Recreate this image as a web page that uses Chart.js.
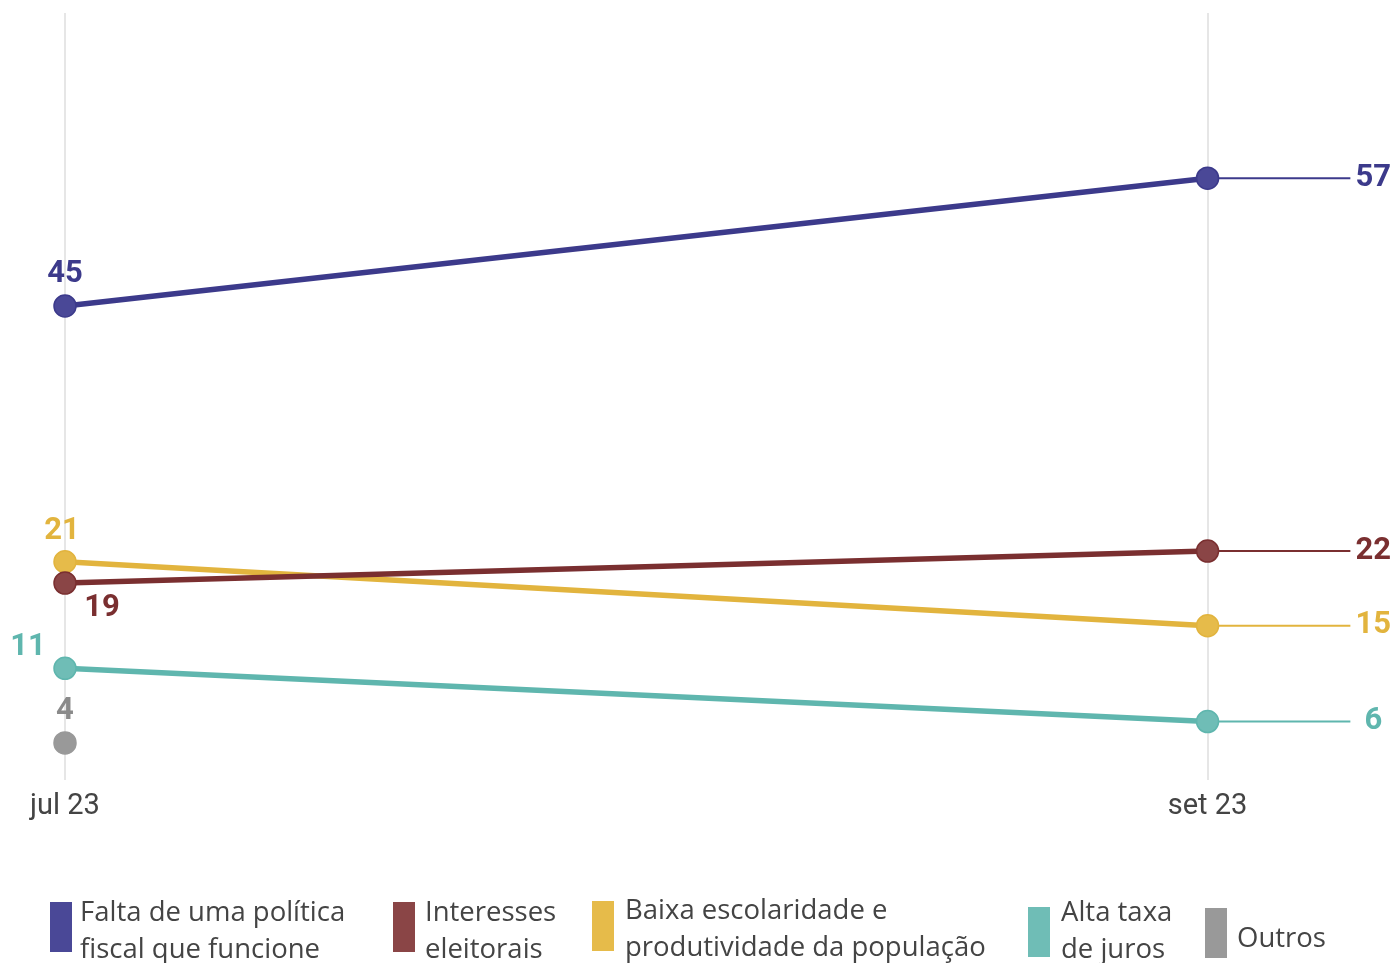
<!DOCTYPE html>
<html>
<head>
<meta charset="utf-8">
<script src="https://cdn.jsdelivr.net/npm/chart.js@4"></script>
<style>
  html, body { margin: 0; padding: 0; background: #fff; }
  #wrap { position: relative; width: 1396px; height: 963px; overflow: hidden; }
  #chart { position: absolute; left: 0; top: 0; }
  .leg { position: absolute; font-family: "Open Sans", sans-serif; font-size: 27.5px; color: #444; line-height: 37px; }
  .leg .box { position: absolute; left: 0; width: 22px; height: 50px; }
  .leg .txt { position: absolute; white-space: nowrap; }
</style>
</head>
<body>
<div id="wrap">
  <canvas id="chart" width="1396" height="963"></canvas>
  <div id="legend"></div>
</div>
<script>
// dados
const periodos = ['jul 23', 'set 23'];
const nomes = ['Falta de uma política fiscal que funcione', 'Interesses eleitorais', 'Baixa escolaridade e produtividade da população', 'Alta taxa de juros', 'Outros'];
const fiscal = [45, 57];
const eleitorais = [19, 22];
const escolaridade = [21, 15];
const juros = [11, 6];
const outros = [4];

const cores = ['#3c3a8b', '#7a2f30', '#e2b43e', '#5fb6ae', '#999999'];
const coresPonto = ['#4a4897', '#8a4546', '#e6bb4a', '#6fbdb6', '#999999'];
const series = [fiscal, eleitorais, escolaridade, juros, outros];

// rótulos à esquerda (deslocamento em px)
const rotEsq = [
  { dx: 0, dy: -32 },
  { dx: 37, dy: 25 },
  { dx: -3, dy: -31 },
  { dx: -37, dy: -21 },
  { dx: 0, dy: -32 }
];

const datasets = [];
const ordem = [1, 2, 3, 4, 5];
series.forEach(function(vals, i) {
    datasets.push({
        label: nomes[i],
        data: vals.map(function(v, j) { return { x: j, y: v }; }),
        borderColor: cores[i],
        backgroundColor: coresPonto[i],
        pointBorderColor: cores[i],
        pointBorderWidth: 1.5,
        borderWidth: 5.5,
        pointRadius: 11,
        pointHoverRadius: 11,
        clip: false,
        order: ordem[i]
    });
    // linha de extensão até o rótulo
    if (vals.length > 1) {
        const ult = vals[vals.length - 1];
        datasets.push({
            label: nomes[i] + ' ext',
            data: [{ x: 1, y: ult }, { x: 1.125, y: ult }],
            borderColor: cores[i],
            borderWidth: 2,
            pointRadius: 0,
            clip: false,
            order: 10 + i
        });
    }
});

const rotulos = {
    id: 'rotulos',
    afterDatasetsDraw: function(chart) {
        const ctx = chart.ctx;
        const xs = chart.scales.x, ys = chart.scales.y;
        ctx.save();
        ctx.font = 'bold 31px Roboto, sans-serif';
        ctx.textAlign = 'center';
        ctx.textBaseline = 'middle';
        series.forEach(function(vals, i) {
            ctx.fillStyle = cores[i] === '#999999' ? '#8a8a8a' : cores[i];
            const x0 = xs.getPixelForValue(0), y0 = ys.getPixelForValue(vals[0]);
            ctx.fillText(String(vals[0]), x0 + rotEsq[i].dx, y0 + rotEsq[i].dy);
            if (vals.length > 1) {
                const ult = vals[vals.length - 1];
                ctx.fillText(String(ult), xs.getPixelForValue(1.125) + 23, ys.getPixelForValue(ult));
            }
        });
        ctx.restore();
    }
};

new Chart(document.getElementById('chart').getContext('2d'), {
    type: 'line',
    data: { datasets: datasets },
    options: {
        responsive: false,
        animation: false,
        layout: { padding: { left: 65, right: 0, top: 13, bottom: 130 } },
        plugins: { legend: { display: false }, tooltip: { enabled: false } },
        scales: {
            x: {
                type: 'linear',
                min: 0,
                max: 1.154,
                afterBuildTicks: function(axis) { axis.ticks = [{ value: 0 }, { value: 1 }]; },
                ticks: {
                    callback: function(v) { return periodos[v]; },
                    font: { family: 'Roboto, sans-serif', size: 29 },
                    color: '#444',
                    padding: 9,
                    maxRotation: 0,
                    autoSkip: false
                },
                grid: { color: '#e6e6e6', lineWidth: 2, drawTicks: false },
                border: { display: false }
            },
            y: {
                display: false,
                min: 0.5,
                max: 72.5
            }
        }
    },
    plugins: [rotulos]
});

// legenda
const legPos = [
    { box: [50, 902], txt: [80, 892], linhas: ['Falta de uma política', 'fiscal que funcione'] },
    { box: [393, 902], txt: [425, 892], linhas: ['Interesses', 'eleitorais'] },
    { box: [592, 901], txt: [625, 890], linhas: ['Baixa escolaridade e', 'produtividade da população'] },
    { box: [1028, 907], txt: [1061, 892], linhas: ['Alta taxa', 'de juros'] },
    { box: [1205, 908], txt: [1237, 918], linhas: ['Outros'] }
];
const leg = document.getElementById('legend');
legPos.forEach(function(p, i) {
    const d = document.createElement('div');
    d.className = 'leg';
    d.style.left = '0px'; d.style.top = '0px';
    const b = document.createElement('div');
    b.className = 'box';
    b.style.left = p.box[0] + 'px'; b.style.top = p.box[1] + 'px';
    b.style.background = coresPonto[i];
    const t = document.createElement('div');
    t.className = 'txt';
    t.style.left = p.txt[0] + 'px'; t.style.top = p.txt[1] + 'px';
    t.innerHTML = p.linhas.join('<br>');
    d.appendChild(b); d.appendChild(t);
    leg.appendChild(d);
});
</script>
</body>
</html>
